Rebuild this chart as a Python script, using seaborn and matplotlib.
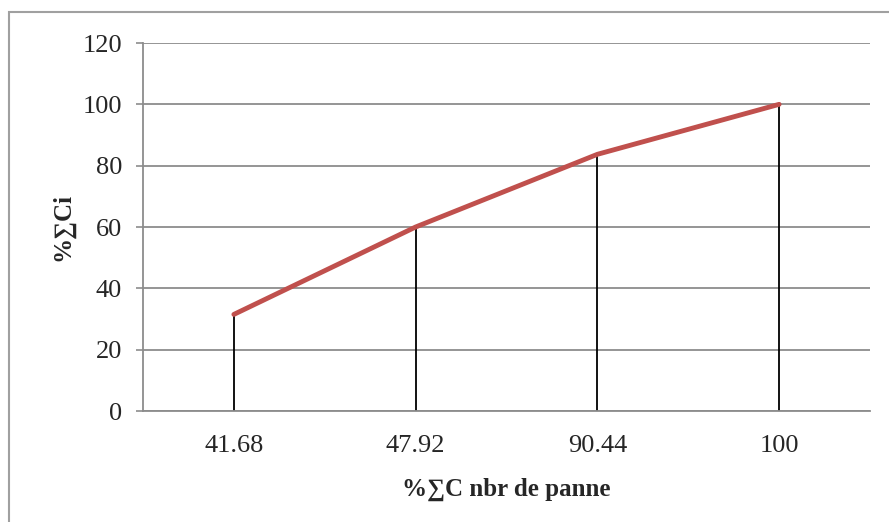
import matplotlib.pyplot as plt
import pandas as pd
import seaborn as sns
from matplotlib.patches import Rectangle

categories = ["41.68", "47.92", "90.44", "100"]
cumul_ci = [31.5, 60.0, 83.7, 100.0]
y_ticks = [0, 20, 40, 60, 80, 100, 120]

LINE_RED = "#C0504D"
GRID_GREY = "#8C8C8C"

sns.set_theme(style="white")
plt.rcParams["font.family"] = ["Liberation Serif", "DejaVu Serif"]

frame = pd.DataFrame({"cat": categories, "val": cumul_ci})
frame["pos"] = range(len(frame))

fig = plt.figure(figsize=(8.89, 5.22), dpi=100)
ax = fig.add_axes([143 / 889, 1 - 411 / 522, 727 / 889, 368 / 522])

# drop lines from each point to the axis
ax.vlines(frame["pos"], 0, frame["val"], color="black", linewidth=1.3, zorder=2)
sns.lineplot(data=frame, x="pos", y="val", color=LINE_RED, linewidth=3.5,
             ax=ax, zorder=3)

ax.set_xlim(-0.5, len(categories) - 0.5)
ax.set_ylim(0, 120)
ax.set_yticks(y_ticks)
ax.set_xticks(frame["pos"], categories)
ax.yaxis.grid(True, color=GRID_GREY, linewidth=1.3)
ax.set_axisbelow(True)
ax.tick_params(axis="y", length=5, width=1.2, color=GRID_GREY, left=True,
               labelsize=19, pad=10)
ax.tick_params(axis="x", length=0, labelsize=19, pad=17)
for side in ["top", "right"]:
    ax.spines[side].set_visible(False)
for side in ["left", "bottom"]:
    ax.spines[side].set_color(GRID_GREY)
    ax.spines[side].set_linewidth(1.3)

ax.set_xlabel("%∑C nbr de panne", fontsize=18, fontweight="bold", labelpad=15)
ax.set_ylabel("%∑Ci", fontsize=18, fontweight="bold", labelpad=6)

fig.patches.append(Rectangle((9 / 889, -0.05), 1.2, 1 - 12 / 522 + 0.05,
                             transform=fig.transFigure, fill=False,
                             edgecolor="#A0A0A0", linewidth=1.5))

fig.savefig("out.png", dpi=100, facecolor="white")
